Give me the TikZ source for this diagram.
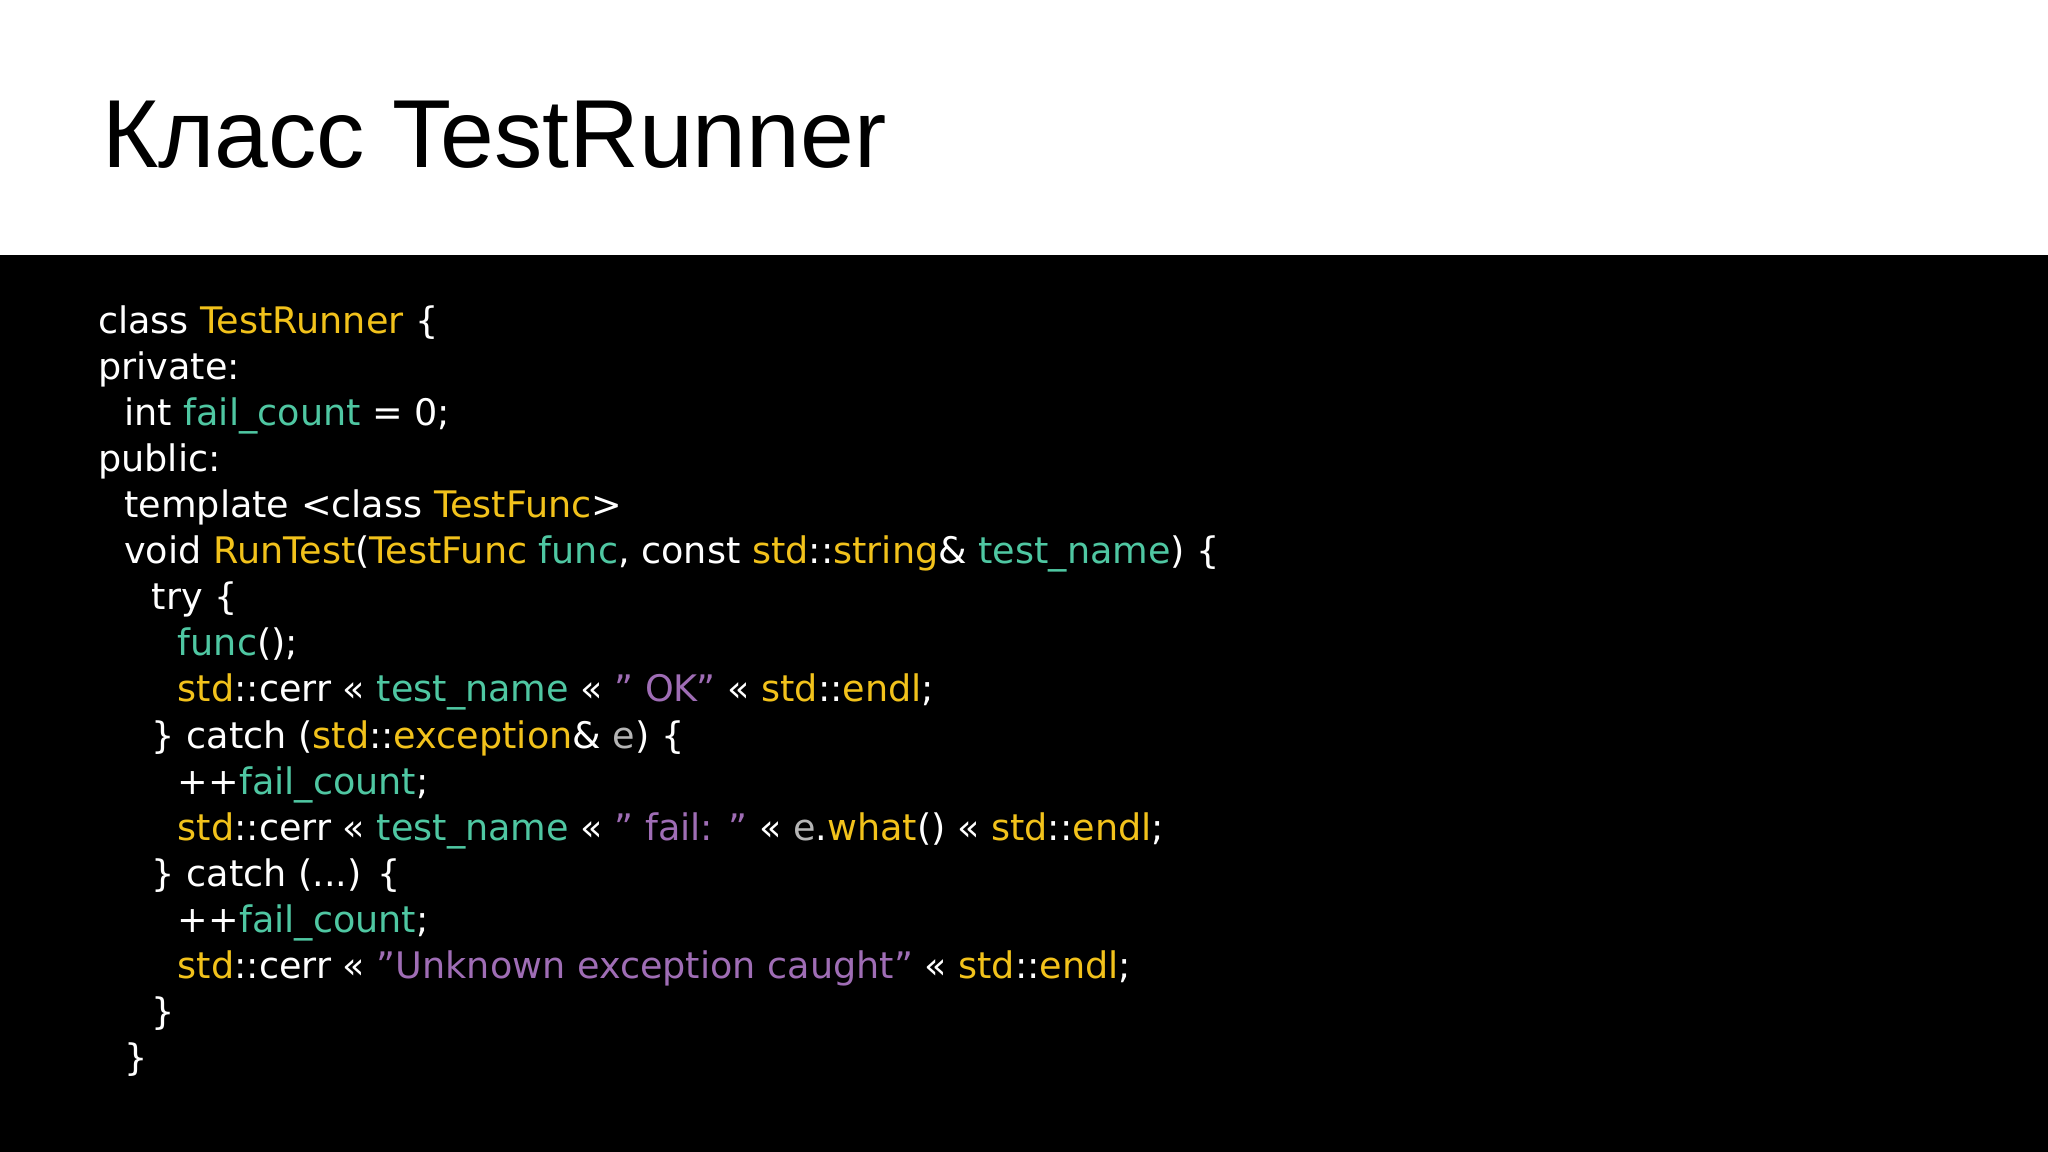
\documentclass[tikz,border=0pt]{standalone}
\usepackage{fontspec}
\setmainfont{DejaVu Sans}
\newfontfamily\titlefont{Liberation Sans}
\definecolor{cyel}{HTML}{F2C21B}
\definecolor{cgrn}{HTML}{4FC7A2}
\definecolor{cpur}{HTML}{9F6DB5}
\definecolor{cgry}{HTML}{B5B5B5}
\newcommand{\cy}[1]{\textcolor{cyel}{#1}}
\newcommand{\cg}[1]{\textcolor{cgrn}{#1}}
\newcommand{\cp}[1]{\textcolor{cpur}{#1}}
\newcommand{\cgr}[1]{\textcolor{cgry}{#1}}
\begin{document}
\begin{tikzpicture}[x=1pt,y=1pt,
  code/.style={anchor=base west,inner sep=0pt,text=white,font=\fontsize{28}{34}\selectfont}]
\useasboundingbox (0,0) rectangle (1568,882);
\fill[white] (0,0) rectangle (1568,882);
\fill[black] (0,0) rectangle (1568,687);
\node[anchor=base west,inner sep=0pt,font=\titlefont\fontsize{74}{80}\selectfont] (title) at (78,754) {Класс TestRunner};
\def\L#1#2#3{\node[code] (l#1) at (#2,{627-35.3*#1}) {#3};}
\L{0}{75}{class \cy{TestRunner} \{}
\L{1}{75}{private:}
\L{2}{95}{int \cg{fail\_count} = 0;}
\L{3}{75}{public:}
\L{4}{95}{template <class \cy{TestFunc}>}
\L{5}{95}{void \cy{RunTest}(\cy{TestFunc} \cg{func}, const \cy{std}::\cy{string}\& \cg{test\_name}) \{}
\L{6}{116}{try \{}
\L{7}{136}{\cg{func}();}
\L{8}{136}{\cy{std}::cerr << \cg{test\_name} << \cp{" OK"} << \cy{std}::\cy{endl};}
\L{9}{116}{\} catch (\cy{std}::\cy{exception}\& \cgr{e}) \{}
\L{10}{136}{++\cg{fail\_count};}
\L{11}{136}{\cy{std}::cerr << \cg{test\_name} << \cp{" fail: "} << \cgr{e}.\cy{what}() << \cy{std}::\cy{endl};}
\L{12}{116}{\} catch (...) \{}
\L{13}{136}{++\cg{fail\_count};}
\L{14}{136}{\cy{std}::cerr << \cp{"Unknown exception caught"} << \cy{std}::\cy{endl};}
\L{15}{116}{\}}
\L{16}{95}{\}}
\end{tikzpicture}
\end{document}
